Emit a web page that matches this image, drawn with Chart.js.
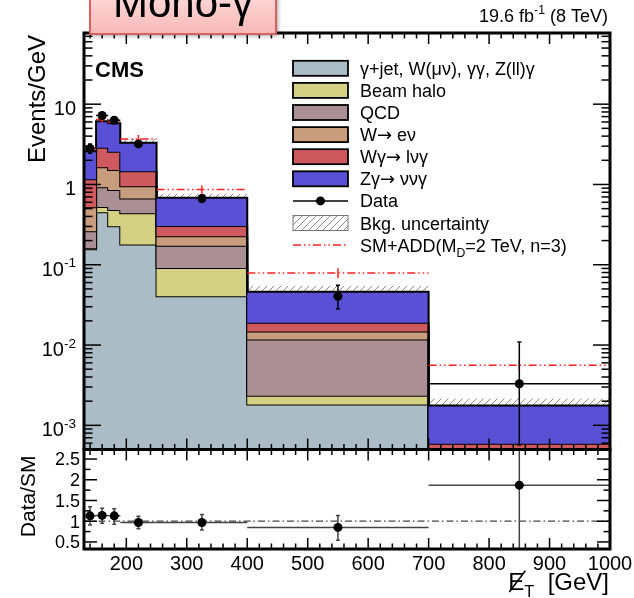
<!DOCTYPE html>
<html>
<head>
<meta charset="utf-8">
<title>Mono-photon MET spectrum</title>
<script src="https://cdn.jsdelivr.net/npm/chart.js@4.4.0/dist/chart.umd.min.js"></script>
<style>
  html, body { margin: 0; padding: 0; background: #fff; }
  #wrap { position: relative; width: 634px; height: 598px; overflow: hidden; }
  #wrap canvas { position: absolute; left: 0; top: 0; }
</style>
</head>
<body>
<div id="wrap">
  <canvas id="mainChart" width="634" height="598"></canvas>
  <canvas id="ratioChart" width="634" height="598"></canvas>
</div>
<script>
// ===== DATA =====
const binEdges = [130, 150, 170, 190, 250, 400, 700, 1000];
const binCenters = [140, 160, 180, 220, 325, 550, 850];

// background contributions, Events/GeV (bottom of the stack first)
const gammaJet = [0.156, 0.451, 0.302, 0.179, 0.0405, 0.00182, 0.0003];
const beamHalo = [0.004, 0.074, 0.180, 0.260, 0.0505, 0.00051, 0.00001];
const qcd = [0.1015, 0.400, 0.373, 0.229, 0.0815, 0.00937, 0.00004];
const wEnu = [0.259, 0.715, 0.655, 0.282, 0.054, 0.00301, 0.00003];
const wGamma = [0.641, 1.23, 1.05, 0.51, 0.0775, 0.00423, 0.00021];
const zGamma = [1.433, 3.27, 3.24, 1.85, 0.38, 0.0272, 0.00117];
const bkgUnc = [0.10, 0.10, 0.10, 0.12, 0.12, 0.19, 0.23];

const processNames = ['γ+jet, W(μν), γγ, Z(ll)γ', 'Beam halo', 'QCD', 'W→ eν', 'Wγ→ lνγ', 'Zγ→ ννγ'];

// observed events / GeV with error band ends
const dataVal = [2.81, 7.23, 6.32, 3.20, 0.668, 0.0405, 0.0033];
const dataHi = [3.20, 7.83, 6.88, 3.43, 0.735, 0.0555, 0.0109];
const dataLo = [2.44, 6.63, 5.76, 2.97, 0.601, 0.0284, 0.00057];

// SM + ADD signal (MD = 2 TeV, n = 3)
const smAdd = [2.75, 6.44, 6.02, 3.69, 0.865, 0.0791, 0.0056];
const smAddErr = [0.08, 0.08, 0.08, 0.12, 0.12, 0.14, 0.14];

// data / SM
const ratioVal = [1.13, 1.14, 1.13, 0.97, 0.97, 0.85, 1.87];
const ratioHi = [1.35, 1.31, 1.30, 1.12, 1.16, 1.14, 6.0];
const ratioLo = [0.91, 0.95, 0.93, 0.82, 0.79, 0.54, 0.30];

const xTickLabels = [200, 300, 400, 500, 600, 700, 800, 900, 1000];
const yTickValues = [1e-3, 1e-2, 1e-1, 1, 10];
const yTickLabels = [['10', '-3'], ['10', '-2'], ['10', '-1'], ['1', ''], ['10', '']];
const ratioTickLabels = [0.5, 1, 1.5, 2, 2.5];

// ===== STYLE =====
const FONT = '"Liberation Sans", Arial, Helvetica, sans-serif';
const ARROW_FONT = '"DejaVu Sans", sans-serif';
const colors = {
  gjet: '#abbcc6',
  halo: '#d4d184',
  qcd: '#aa8f94',
  wenu: '#c89d7d',
  wg: '#ce5a60',
  zg: '#5a50d6',
  signal: '#ff2020',
  hatch: '#8a8a8a'
};
const layerColors = [colors.gjet, colors.halo, colors.qcd, colors.wenu, colors.wg, colors.zg];
const signalDash = [8, 3, 1.5, 3, 1.5, 3];

function makeHatch() {
  const tile = document.createElement('canvas');
  tile.width = 7;
  tile.height = 7;
  const g = tile.getContext('2d');
  g.strokeStyle = colors.hatch;
  g.lineWidth = 1;
  g.beginPath();
  g.moveTo(0, 7); g.lineTo(7, 0);
  g.moveTo(-1, 1); g.lineTo(1, -1);
  g.moveTo(6, 8); g.lineTo(8, 6);
  g.stroke();
  return g.createPattern(tile, 'repeat');
}
const hatch = makeHatch();

// histogram helpers: one point per left edge + closing point at the last edge
function stepPoints(vals) {
  const pts = vals.map((v, i) => ({ x: binEdges[i], y: v }));
  pts.push({ x: binEdges[binEdges.length - 1], y: vals[vals.length - 1] });
  return pts;
}
// horizontal bar per bin, with gaps between bins
function segPoints(vals) {
  const pts = [];
  vals.forEach((v, i) => {
    pts.push({ x: binEdges[i], y: v }, { x: binEdges[i + 1], y: v }, { x: binEdges[i + 1], y: null });
  });
  return pts;
}

// cumulative stack
const layers = [gammaJet, beamHalo, qcd, wEnu, wGamma, zGamma];
const stackTops = [];
layers.reduce((below, vals) => {
  const top = vals.map((v, i) => below[i] + v);
  stackTops.push(top);
  return top;
}, binCenters.map(() => 0));
const bkgTotal = stackTops[stackTops.length - 1];

// ===== DRAW HELPERS =====
function seg(ctx, x1, y1, x2, y2) {
  ctx.beginPath();
  ctx.moveTo(x1, y1);
  ctx.lineTo(x2, y2);
  ctx.stroke();
}

function clipArea(ctx, a) {
  ctx.beginPath();
  ctx.rect(a.left, a.top, a.right - a.left, a.bottom - a.top);
  ctx.clip();
}

// text pieces on one baseline: [text, '' | 'sup' | 'sub', optional family]
function richText(ctx, parts, x, y, size, align) {
  const fontFor = p => (p[1] ? size * 0.68 : size) + 'px ' + (p[2] || FONT);
  let w = 0;
  parts.forEach(p => { ctx.font = fontFor(p); w += ctx.measureText(p[0]).width; });
  let cx = align === 'right' ? x - w : align === 'center' ? x - w / 2 : x;
  ctx.textAlign = 'left';
  ctx.textBaseline = 'alphabetic';
  parts.forEach(p => {
    ctx.font = fontFor(p);
    const dy = p[1] === 'sup' ? -size * 0.42 : p[1] === 'sub' ? size * 0.28 : 0;
    ctx.fillText(p[0], cx, y + dy);
    cx += ctx.measureText(p[0]).width;
  });
  return w;
}

// legend names: the arrow comes from a font with a full size glyph
function nameParts(name) {
  const parts = [];
  name.split('→').forEach((piece, i) => {
    if (i > 0) parts.push(['→', '', ARROW_FONT]);
    if (piece) parts.push([piece, '']);
  });
  return parts;
}

function verticalTitle(ctx, text, xBase, yEnd, size) {
  ctx.save();
  ctx.translate(xBase, yEnd);
  ctx.rotate(-Math.PI / 2);
  ctx.font = size + 'px ' + FONT;
  ctx.textAlign = 'right';
  ctx.textBaseline = 'alphabetic';
  ctx.fillStyle = '#000';
  ctx.fillText(text, 0, 0);
  ctx.restore();
}

function xTicks(ctx, x, a, major, minor) {
  for (let v = 140; v < 1000; v += 20) {
    const px = x.getPixelForValue(v);
    const len = v % 100 === 0 ? major : minor;
    seg(ctx, px, a.bottom, px, a.bottom - len);
    seg(ctx, px, a.top, px, a.top + len);
  }
}

function errorBar(ctx, px, y1, y2, cap) {
  seg(ctx, px, y1, px, y2);
  seg(ctx, px - cap, y1, px + cap, y1);
  seg(ctx, px - cap, y2, px + cap, y2);
}

// ===== MAIN PANEL =====
const mainDecor = {
  id: 'mainDecor',
  beforeDatasetsDraw(chart) {
    // horizontal data bars sit under the stack
    const { ctx, chartArea, scales: { x, y } } = chart;
    ctx.save();
    clipArea(ctx, chartArea);
    ctx.strokeStyle = '#000';
    ctx.lineWidth = 1.5;
    dataVal.forEach((v, i) => {
      const py = y.getPixelForValue(v);
      seg(ctx, x.getPixelForValue(binEdges[i]), py, x.getPixelForValue(binEdges[i + 1]), py);
    });
    ctx.restore();
  },
  beforeDatasetDraw(chart, args) {
    if (args.index !== 9) return;
    const { ctx, chartArea, scales: { x, y } } = chart;
    ctx.save();
    clipArea(ctx, chartArea);
    // signal stat. errors
    ctx.strokeStyle = colors.signal;
    ctx.lineWidth = 1.5;
    smAdd.forEach((v, i) => {
      const px = x.getPixelForValue(binCenters[i]);
      seg(ctx, px, y.getPixelForValue(v * (1 + smAddErr[i])), px, y.getPixelForValue(v * (1 - smAddErr[i])));
    });
    // data errors
    ctx.strokeStyle = '#000';
    ctx.lineWidth = 1.5;
    dataVal.forEach((v, i) => {
      errorBar(ctx, x.getPixelForValue(binCenters[i]), y.getPixelForValue(dataHi[i]), y.getPixelForValue(dataLo[i]), 2);
    });
    ctx.restore();
  },
  afterDraw(chart) {
    const { ctx, chartArea: a, scales: { x, y } } = chart;
    ctx.save();
    ctx.strokeStyle = '#000';
    ctx.fillStyle = '#000';

    // frame and inner ticks
    ctx.lineWidth = 1.5;
    xTicks(ctx, x, a, 11, 5.5);
    for (let e = -4; e <= 1; e++) {
      for (let m = 1; m <= 9; m++) {
        const v = m * Math.pow(10, e);
        if (v < y.min || v > y.max) continue;
        const py = y.getPixelForValue(v);
        const len = m === 1 ? 17 : 8.5;
        seg(ctx, a.left, py, a.left + len, py);
        seg(ctx, a.right, py, a.right - len, py);
      }
    }
    ctx.lineWidth = 3;
    ctx.strokeRect(a.left, a.top, a.right - a.left, a.bottom - a.top);

    // y tick labels
    yTickValues.forEach((v, i) => {
      const lab = yTickLabels[i];
      const parts = lab[1] ? [[lab[0], ''], [lab[1], 'sup']] : [[lab[0], '']];
      richText(ctx, parts, a.left - 8, y.getPixelForValue(v) + 11, 20, 'right');
    });
    verticalTitle(ctx, 'Events/GeV', 45, a.top + 2, 24);

    // CMS label and luminosity
    ctx.font = 'bold 22px ' + FONT;
    ctx.textAlign = 'left';
    ctx.fillText('CMS', 95, 77);
    richText(ctx, [['19.6 fb', ''], ['-1', 'sup'], [' (8 TeV)', '']], 608, 22, 18, 'right');

    // legend
    const lx = 293, lw = 55, tx = 360, rowY = 68.3, rowH = 22.1;
    const row = k => rowY + k * rowH;
    ctx.lineWidth = 1.8;
    processNames.forEach((name, k) => {
      const cy = row(k);
      ctx.fillStyle = layerColors[k];
      ctx.fillRect(lx, cy - 7.5, lw, 15);
      ctx.strokeStyle = '#000';
      ctx.strokeRect(lx, cy - 7.5, lw, 15);
      ctx.fillStyle = '#000';
      richText(ctx, nameParts(name), tx, cy + 6.5, 18, 'left');
    });
    // data entry
    let cy = row(6);
    ctx.lineWidth = 1.5;
    seg(ctx, lx, cy, lx + lw, cy);
    ctx.beginPath();
    ctx.arc(lx + lw / 2, cy, 4.5, 0, Math.PI * 2);
    ctx.fill();
    richText(ctx, [['Data', '']], tx, cy + 6.5, 18, 'left');
    // uncertainty entry
    cy = row(7);
    ctx.fillStyle = hatch;
    ctx.fillRect(lx, cy - 7.5, lw, 15);
    ctx.strokeStyle = '#777';
    ctx.lineWidth = 1;
    ctx.strokeRect(lx, cy - 7.5, lw, 15);
    ctx.fillStyle = '#000';
    richText(ctx, [['Bkg. uncertainty', '']], tx, cy + 6.5, 18, 'left');
    // signal entry
    cy = row(8);
    ctx.strokeStyle = colors.signal;
    ctx.lineWidth = 1.5;
    ctx.setLineDash(signalDash);
    seg(ctx, lx, cy, lx + lw, cy);
    ctx.setLineDash([]);
    richText(ctx, [['SM+ADD(M', ''], ['D', 'sub'], ['=2 TeV, n=3)', '']], tx, cy + 6.5, 18, 'left');

    // tag box over the top frame
    ctx.save();
    ctx.shadowColor = 'rgba(0,0,0,0.35)';
    ctx.shadowBlur = 4;
    ctx.shadowOffsetX = 2;
    ctx.shadowOffsetY = 2;
    const grd = ctx.createLinearGradient(0, -6, 0, 34);
    grd.addColorStop(0, '#fcd9d8');
    grd.addColorStop(1, '#f8b9b7');
    ctx.fillStyle = grd;
    ctx.fillRect(90, -6, 186, 40);
    ctx.restore();
    ctx.strokeStyle = '#d4625e';
    ctx.lineWidth = 2;
    ctx.strokeRect(90, -6, 186, 40);
    ctx.fillStyle = '#000';
    ctx.font = '42px ' + FONT;
    ctx.textAlign = 'center';
    ctx.textBaseline = 'alphabetic';
    ctx.fillText('Mono-γ', 183, 17);
    ctx.restore();
  }
};

const mainSets = stackTops.map((top, k) => ({
  data: stepPoints(top),
  stepped: true,
  fill: k === 0 ? 'start' : '-1',
  backgroundColor: layerColors[k],
  borderColor: '#000',
  borderWidth: 2,
  pointRadius: 0,
  order: 20 - k
}));
mainSets.push({
  data: stepPoints(bkgTotal.map((v, i) => v * (1 - bkgUnc[i]))),
  stepped: true, borderWidth: 0, pointRadius: 0, fill: false, order: 40
});
mainSets.push({
  data: stepPoints(bkgTotal.map((v, i) => v * (1 + bkgUnc[i]))),
  stepped: true, borderWidth: 0, pointRadius: 0, fill: '-1', backgroundColor: hatch, order: 39
});
mainSets.push({
  data: segPoints(smAdd),
  borderColor: colors.signal, borderWidth: 1.5, borderDash: signalDash,
  pointRadius: 0, fill: false, order: 5
});
mainSets.push({
  data: binCenters.map((c, i) => ({ x: c, y: dataVal[i] })),
  showLine: false, pointRadius: 4.5, pointBorderWidth: 0,
  pointBackgroundColor: '#000', pointBorderColor: '#000', order: 1
});

new Chart(document.getElementById('mainChart'), {
  type: 'line',
  data: { datasets: mainSets },
  options: {
    responsive: false,
    animation: false,
    devicePixelRatio: 1,
    events: [],
    layout: { padding: { left: 84, right: 24, top: 33, bottom: 148.5 } },
    scales: {
      x: { type: 'linear', min: 130, max: 1000, display: false },
      y: { type: 'logarithmic', min: 5e-4, max: 77, display: false }
    },
    plugins: { legend: { display: false }, tooltip: { enabled: false } }
  },
  plugins: [mainDecor]
});

// ===== RATIO PANEL =====
const ratioDecor = {
  id: 'ratioDecor',
  beforeDatasetsDraw(chart) {
    const { ctx, chartArea, scales: { x, y } } = chart;
    ctx.save();
    clipArea(ctx, chartArea);
    ctx.strokeStyle = '#444';
    ctx.lineWidth = 1.5;
    ratioVal.forEach((v, i) => {
      const px = x.getPixelForValue(binCenters[i]);
      const py = y.getPixelForValue(v);
      seg(ctx, x.getPixelForValue(binEdges[i]), py, x.getPixelForValue(binEdges[i + 1]), py);
      errorBar(ctx, px, y.getPixelForValue(ratioHi[i]), y.getPixelForValue(ratioLo[i]), 2);
    });
    ctx.restore();
  },
  afterDraw(chart) {
    const { ctx, chartArea: a, scales: { x, y } } = chart;
    ctx.save();
    ctx.strokeStyle = '#000';
    ctx.fillStyle = '#000';
    ctx.lineWidth = 1.5;
    xTicks(ctx, x, a, 11, 5.5);
    for (let k = 2; k <= 10; k++) {
      const py = y.getPixelForValue(k * 0.25);
      const len = k % 2 === 0 ? 13 : 6.5;
      seg(ctx, a.left, py, a.left + len, py);
      seg(ctx, a.right, py, a.right - len, py);
    }
    ctx.lineWidth = 3;
    ctx.strokeRect(a.left, a.top, a.right - a.left, a.bottom - a.top);

    ratioTickLabels.forEach(v => {
      richText(ctx, [[String(v), '']], a.left - 4, y.getPixelForValue(v) + 6.4, 18, 'right');
    });
    xTickLabels.forEach(v => {
      richText(ctx, [[String(v), '']], x.getPixelForValue(v), 570, 20, 'center');
    });

    // missing ET axis title
    const size = 24;
    const w = richText(ctx, [['E', ''], ['T', 'sub'], ['  [GeV]', '']], a.right - 1, 590, size, 'right');
    const ex = a.right - 1 - w;
    ctx.font = size + 'px ' + FONT;
    const ew = ctx.measureText('E').width;
    ctx.lineWidth = 1.6;
    seg(ctx, ex + 1, 592, ex + ew + 1, 590 - size * 0.8);

    verticalTitle(ctx, 'Data/SM', 35, a.top + 6, 21);
    ctx.restore();
  }
};

new Chart(document.getElementById('ratioChart'), {
  type: 'line',
  data: {
    datasets: [
      {
        data: binCenters.map((c, i) => ({ x: c, y: ratioVal[i] })),
        showLine: false, pointRadius: 4.5, pointBorderWidth: 0,
        pointBackgroundColor: '#000', pointBorderColor: '#000', order: 1
      },
      {
        data: [{ x: 130, y: 1 }, { x: 1000, y: 1 }],
        borderColor: '#444', borderWidth: 1.2, borderDash: [7, 3, 1.5, 3],
        pointRadius: 0, fill: false, order: 2
      }
    ]
  },
  options: {
    responsive: false,
    animation: false,
    devicePixelRatio: 1,
    events: [],
    layout: { padding: { left: 84, right: 24, top: 449.5, bottom: 49 } },
    scales: {
      x: { type: 'linear', min: 130, max: 1000, display: false },
      y: { type: 'linear', min: 0.33, max: 2.73, display: false }
    },
    plugins: { legend: { display: false }, tooltip: { enabled: false } }
  },
  plugins: [ratioDecor]
});
</script>
</body>
</html>
